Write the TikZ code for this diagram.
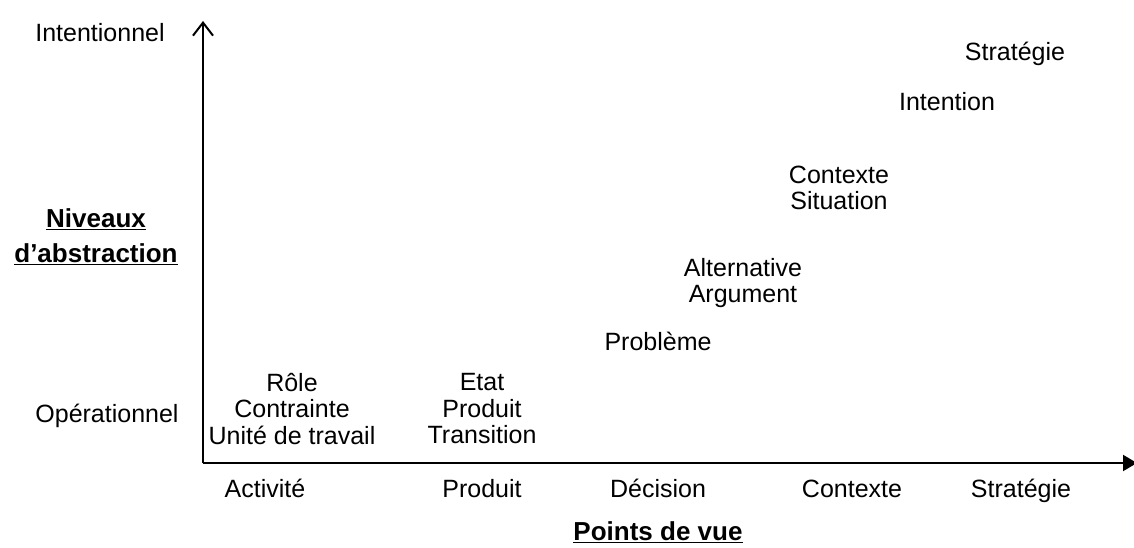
\documentclass[tikz,border=0pt]{standalone}
\usepackage{fontspec}
\setmainfont{Liberation Sans}
\usetikzlibrary{arrows.meta}

\begin{document}
\begin{tikzpicture}[x = 1pt, y = -1pt]
	\tikzstyle{textStyle} = [inner sep = 0pt, align = center, font = \fontsize{25}{26.5}\selectfont]
	\tikzstyle{titleStyle} = [inner sep = 0pt, align = center, font = \fontsize{26}{35}\selectfont\bfseries]
	\tikzstyle{axisStyle} = [line width = 2pt]
	\useasboundingbox (0, 0) rectangle (1134, 548);
	% axes
	\coordinate (origin) at (203, 463);
	\coordinate (yTop) at (203, 21);
	\coordinate (xEnd) at (1137, 463);
	\draw[axisStyle, -{Straight Barb[length = 13pt, width = 20pt, line width = 2pt]}] (origin) -- (yTop);
	\draw[axisStyle, -{Triangle[length = 14pt, width = 16pt]}] (origin) -- (xEnd);
	% vertical axis
	\node[textStyle] (intentionnel) at (100, 33) {Intentionnel};
	\node[textStyle] (operationnel) at (107, 416) {Op\'erationnel};
	\node[titleStyle] (niveaux) at (96, 237) {\underline{Niveaux}\\\underline{d'abstraction}};
	% horizontal axis
	\node[textStyle, anchor = base] (activite) at (265, 497) {Activit\'e};
	\node[textStyle, anchor = base] (produit) at (482, 497) {Produit};
	\node[textStyle, anchor = base] (decision) at (658, 497) {D\'ecision};
	\node[textStyle, anchor = base] (contexte) at (852, 497) {Contexte};
	\node[textStyle, anchor = base] (strategie) at (1021, 497) {Strat\'egie};
	\node[titleStyle] (pointsVue) at (658, 532) {\underline{Points de vue}};
	% concepts
	\node[textStyle] (cActivite) at (292, 409) {R\^ole\\Contrainte\\Unit\'e de travail};
	\node[textStyle] (cProduit) at (482, 409) {Etat\\Produit\\Transition};
	\node[textStyle] (cProbleme) at (658, 341) {Probl\`eme};
	\node[textStyle] (cDecision) at (743, 283) {Alternative\\Argument};
	\node[textStyle] (cContexte) at (839, 188) {Contexte\\Situation};
	\node[textStyle] (cIntention) at (947, 102) {Intention};
	\node[textStyle] (cStrategie) at (1015, 54) {Strat\'egie};
\end{tikzpicture}
\end{document}
